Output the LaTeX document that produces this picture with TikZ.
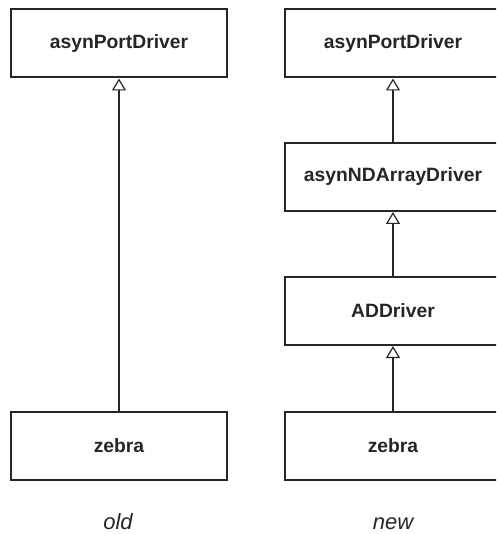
\documentclass[tikz,border=0pt]{standalone}
\usepackage{fontspec}
\setmainfont{Liberation Sans}
\usetikzlibrary{arrows.meta}
\definecolor{ink}{HTML}{262626}
\tikzset{
  cls/.style={draw=ink, line width=2pt, minimum width=216pt, minimum height=68pt,
    inner sep=0pt, text=ink, font=\fontsize{19.3}{21}\selectfont\bfseries},
  inh/.style={draw=ink, line width=1.2pt, -{Triangle[open, length=12pt, width=14pt, line width=1.2pt]}},
  captext/.style={text=ink, font=\fontsize{22}{24}\selectfont\itshape, anchor=base}
}
\begin{document}
\begin{tikzpicture}[x=1pt, y=-1pt]
\useasboundingbox (0,0) rectangle (496,534);
\clip (0,0) rectangle (496,534);
% old
\node[cls] (oldport) at (119,43.5) {asynPortDriver};
\node[cls] (oldzebra) at (119,446) {zebra};
\draw[inh] (oldzebra.north) -- (oldport.south);
% new
\node[cls] (newport) at (393,43.5) {asynPortDriver};
\node[cls] (nd) at (393,177) {asynNDArrayDriver};
\node[cls] (ad) at (393,311) {ADDriver};
\node[cls] (newzebra) at (393,446) {zebra};
\draw[inh] (nd.north) -- (newport.south);
\draw[inh] (ad.north) -- (nd.south);
\draw[inh] (newzebra.north) -- (ad.south);
% captions
\node[captext] (old) at (118,529) {old};
\node[captext] (new) at (393,529) {new};
\end{tikzpicture}
\end{document}
